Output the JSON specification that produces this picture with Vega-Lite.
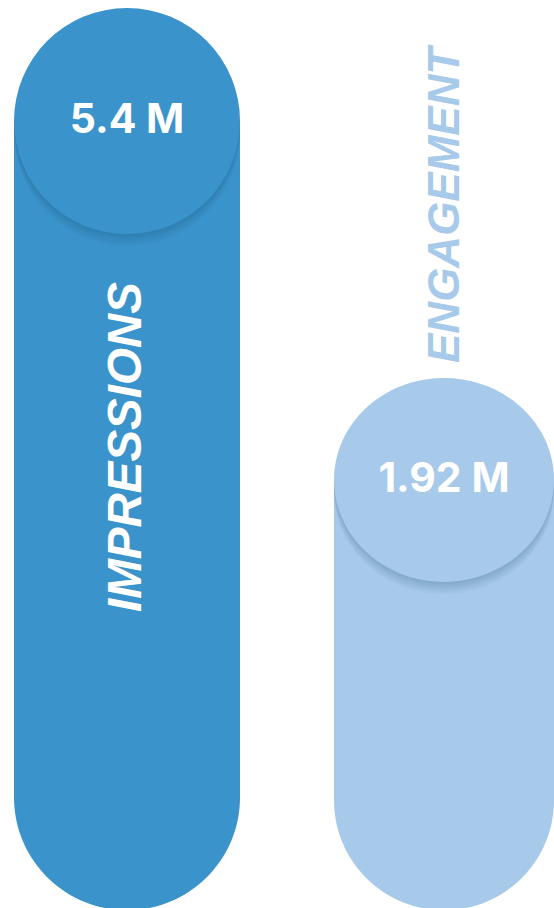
{
  "$schema": "https://vega.github.io/schema/vega-lite/v6.json",
  "width": 554,
  "height": 908,
  "padding": 0,
  "autosize": "none",
  "background": "white",
  "config": {"view": {"stroke": null}},
  "data": {"values": [
    {"metric": "IMPRESSIONS", "value": 5.4, "label": "5.4 M"},
    {"metric": "ENGAGEMENT", "value": 1.92, "label": "1.92 M"}
  ]},
  "encoding": {
    "x": {"field": "metric", "type": "nominal", "sort": null, "axis": null,
      "scale": {"domain": ["IMPRESSIONS", "ENGAGEMENT"], "range": [-31.5, 602.5], "paddingInner": 0, "paddingOuter": 0}},
    "y": {"field": "value", "type": "quantitative", "axis": null,
      "scale": {"domain": [-2.229, 6.573], "nice": false, "zero": false}}
  },
  "layer": [
    {
      "transform": [{"filter": "datum.metric === 'IMPRESSIONS'"}],
      "mark": {"type": "bar", "width": 226, "color": "#3B93CB", "cornerRadiusBottomLeft": 113, "cornerRadiusBottomRight": 113},
      "encoding": {"y2": {"datum": -2.25}}
    },
    {
      "transform": [{"filter": "datum.metric === 'ENGAGEMENT'"}],
      "mark": {"type": "bar", "width": 220, "color": "#A7C9EA", "cornerRadiusBottomLeft": 110, "cornerRadiusBottomRight": 110},
      "encoding": {"y2": {"datum": -2.25}}
    },
    {
      "mark": {"type": "point", "filled": true, "color": "#0B3A5E", "opacity": 0.03, "strokeWidth": 0, "yOffset": 12},
      "encoding": {
        "shape": {"field": "metric", "type": "nominal", "legend": null, "scale": {"domain": ["IMPRESSIONS", "ENGAGEMENT"], "range": ["circle", "M-1,0C-1,-0.512,-0.5523,-0.927,0,-0.927C0.5523,-0.927,1,-0.512,1,0C1,0.512,0.5523,0.927,0,0.927C-0.5523,0.927,-1,0.512,-1,0Z"]}},
        "size": {"field": "value", "type": "quantitative", "legend": null, "scale": {"domain": [1.92, 5.4], "range": [48400, 51076]}}
      }
    },
    {
      "mark": {"type": "point", "filled": true, "color": "#0B3A5E", "opacity": 0.03, "strokeWidth": 0, "yOffset": 10},
      "encoding": {
        "shape": {"field": "metric", "type": "nominal", "legend": null},
        "size": {"field": "value", "type": "quantitative", "legend": null}
      }
    },
    {
      "mark": {"type": "point", "filled": true, "color": "#0B3A5E", "opacity": 0.03, "strokeWidth": 0, "yOffset": 8},
      "encoding": {
        "shape": {"field": "metric", "type": "nominal", "legend": null},
        "size": {"field": "value", "type": "quantitative", "legend": null}
      }
    },
    {
      "mark": {"type": "point", "filled": true, "color": "#0B3A5E", "opacity": 0.035, "strokeWidth": 0, "yOffset": 6},
      "encoding": {
        "shape": {"field": "metric", "type": "nominal", "legend": null},
        "size": {"field": "value", "type": "quantitative", "legend": null}
      }
    },
    {
      "mark": {"type": "point", "filled": true, "color": "#0B3A5E", "opacity": 0.035, "strokeWidth": 0, "yOffset": 4},
      "encoding": {
        "shape": {"field": "metric", "type": "nominal", "legend": null},
        "size": {"field": "value", "type": "quantitative", "legend": null}
      }
    },
    {
      "mark": {"type": "point", "filled": true, "color": "#0B3A5E", "opacity": 0.035, "strokeWidth": 0, "yOffset": 2},
      "encoding": {
        "shape": {"field": "metric", "type": "nominal", "legend": null},
        "size": {"field": "value", "type": "quantitative", "legend": null}
      }
    },
    {
      "mark": {"type": "point", "filled": true, "opacity": 1, "strokeWidth": 0},
      "encoding": {
        "color": {"field": "metric", "type": "nominal", "legend": null, "scale": {"domain": ["IMPRESSIONS", "ENGAGEMENT"], "range": ["#3B93CB", "#A7C9EA"]}},
        "shape": {"field": "metric", "type": "nominal", "legend": null},
        "size": {"field": "value", "type": "quantitative", "legend": null}
      }
    },
    {
      "mark": {"type": "text", "color": "white", "font": "Inter", "fontWeight": 700, "fontSize": 41, "align": "center", "baseline": "middle"},
      "encoding": {"text": {"field": "label"}}
    },
    {
      "transform": [{"filter": "datum.metric === 'IMPRESSIONS'"}],
      "mark": {"type": "text", "color": "white", "font": "Liberation Sans", "fontStyle": "italic", "fontWeight": "bold", "fontSize": 47.5, "angle": 270, "align": "left", "baseline": "middle", "dx": -491},
      "encoding": {"text": {"field": "metric"}}
    },
    {
      "transform": [{"filter": "datum.metric === 'ENGAGEMENT'"}],
      "mark": {"type": "text", "color": "#A7C9EA", "font": "Liberation Sans", "fontStyle": "italic", "fontWeight": "bold", "fontSize": 44, "angle": 270, "align": "left", "baseline": "middle", "dx": 117, "dy": 2},
      "encoding": {"text": {"field": "metric"}}
    }
  ]
}
